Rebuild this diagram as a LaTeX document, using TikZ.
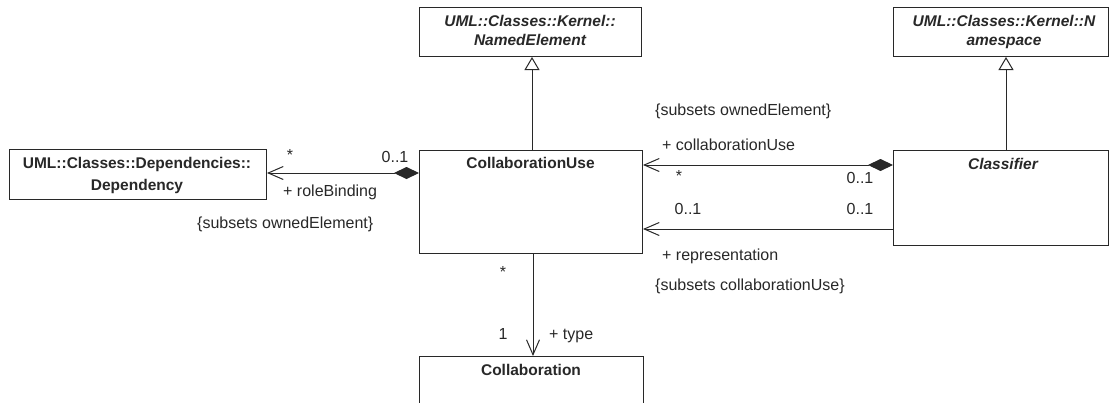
\documentclass[tikz,border=0pt]{standalone}
\usepackage{fontspec}
\setmainfont{Liberation Sans}
\usetikzlibrary{arrows.meta}
\definecolor{ink}{RGB}{40,40,40}
\tikzset{
  cls/.style={draw=ink, line width=1pt, fill=white, inner sep=0pt, anchor=north west},
  ttl/.style={font=\fontsize{15.5}{18}\selectfont\bfseries, anchor=base, inner sep=0pt, text=ink},
  abs/.style={ttl, font=\fontsize{15.5}{18}\selectfont\bfseries\itshape},
  lbl/.style={font=\fontsize{16}{18}\selectfont, anchor=base, inner sep=0pt, text=ink},
  lbll/.style={lbl, anchor=base west},
  conn/.style={draw=ink, line width=1pt},
  nav/.style={conn, -{Straight Barb[length=15pt,width=13pt,line width=1pt]}},
  comp/.style={conn, {Straight Barb[length=15pt,width=13pt,line width=1pt]}-{Diamond[length=25pt,width=12pt]}},
  gen/.style={conn, -{Triangle[open,length=13pt,width=15pt,line width=1pt]}},
}
\begin{document}
\begin{tikzpicture}[x=1pt, y=-1pt]
\useasboundingbox (0,0) rectangle (1109,402);
\clip (0,0) rectangle (1109,402);
\fill[white] (0,0) rectangle (1109,402);

% classes
\node[cls, minimum width=222pt, minimum height=49pt] (ne) at (419,7) {};
\node[abs] (neA) at (530,26) {UML::Classes::Kernel::};
\node[abs] (neB) at (530,45) {NamedElement};

\node[cls, minimum width=215pt, minimum height=49pt] (ns) at (893,7) {};
\node[abs] (nsA) at (1004,26.5) {UML::Classes::Kernel::N};
\node[abs] (nsB) at (1004,45.5) {amespace};

\node[cls, minimum width=257pt, minimum height=50pt] (dep) at (9,149) {};
\node[ttl] (depA) at (137,168) {UML::Classes::Dependencies::};
\node[ttl] (depB) at (137,190) {Dependency};

\node[cls, minimum width=223pt, minimum height=103pt] (cu) at (419,150) {};
\node[ttl] (cuT) at (530.5,168.5) {CollaborationUse};

\node[cls, minimum width=215pt, minimum height=95pt] (cl) at (893,150) {};
\node[abs] (clT) at (1003,169) {Classifier};

\node[cls, minimum width=224pt, minimum height=70pt] (co) at (419,356) {};
\node[ttl] (coT) at (531,375) {Collaboration};

% generalizations
\draw[gen] (cu.north -| 532,0) -- (ne.south -| 532,0);
\draw[gen] (cl.north -| 1006,0) -- (ns.south -| 1006,0);

% associations
\draw[comp] (dep.east |- 0,173) -- (cu.west |- 0,173);
\draw[comp] (cu.east |- 0,165) -- (cl.west |- 0,165);
\draw[nav] (cl.west |- 0,229) -- (cu.east |- 0,229);
\draw[nav] (cu.south -| 533,0) -- (co.north -| 533,0);

% end labels: roleBinding
\node[lbl] (rbM1) at (290,160) {*};
\node[lbl] (rbM2) at (395,162) {0..1};
\node[lbll] (rbR) at (283,196.5) {+ roleBinding};
\node[lbll] (rbC) at (197,228) {\{subsets ownedElement\}};

% end labels: collaborationUse
\node[lbll] (cuC) at (655,115.5) {\{subsets ownedElement\}};
\node[lbll] (cuR) at (662,150.5) {+ collaborationUse};
\node[lbl] (cuM1) at (679,181) {*};
\node[lbl] (cuM2) at (860,183) {0..1};

% end labels: representation
\node[lbl] (reM1) at (688,214) {0..1};
\node[lbl] (reM2) at (860,214) {0..1};
\node[lbll] (reR) at (662,260) {+ representation};
\node[lbll] (reC) at (655,290) {\{subsets collaborationUse\}};

% end labels: type
\node[lbl] (tyM1) at (503,277) {*};
\node[lbl] (tyM2) at (503,339) {1};
\node[lbll] (tyR) at (549,339) {+ type};
\end{tikzpicture}
\end{document}
